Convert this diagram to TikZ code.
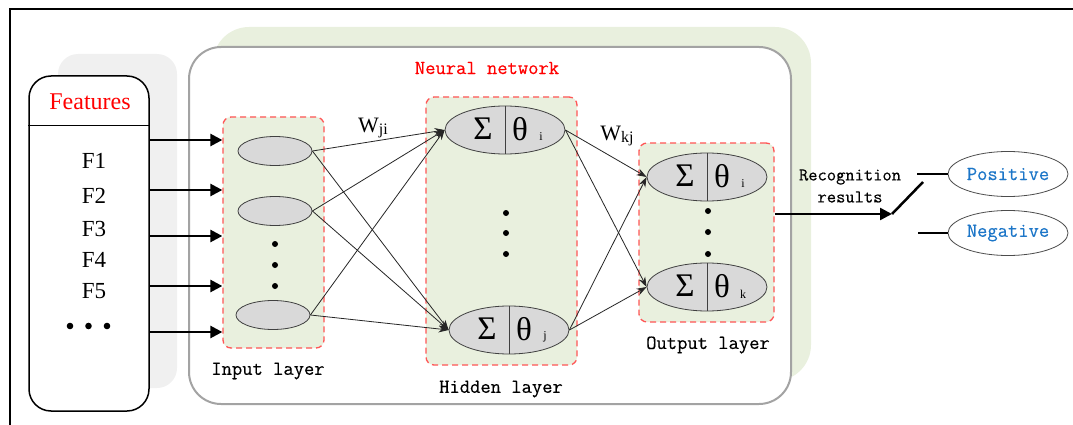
\documentclass[tikz,border=0pt]{standalone}
\usepackage{fontspec}
\setmainfont{Liberation Serif}
\setmonofont{Latin Modern Mono}[FakeBold=0.4]
\usetikzlibrary{shapes.geometric,arrows.meta,calc}

\definecolor{layergreen}{RGB}{233,240,222}
\definecolor{shadowgray}{RGB}{240,240,240}
\definecolor{cellgray}{RGB}{217,217,217}
\definecolor{dashred}{RGB}{255,85,85}
\definecolor{framegray}{RGB}{163,163,163}
\definecolor{resultblue}{RGB}{28,118,200}

\tikzset{
  mono/.style={font=\ttfamily\fontsize{20}{24}\selectfont, inner sep=0pt},
  featlabel/.style={font=\fontsize{23}{26}\selectfont, inner sep=0pt},
  layerbox/.style={draw=dashred, fill=layergreen, dash pattern=on 6pt off 4pt,
                   line width=1.3pt, rounded corners=8pt, inner sep=0pt},
  neuron/.style={ellipse, draw=black!75, fill=cellgray, line width=0.8pt, inner sep=0pt},
  bigcell/.style={neuron, minimum width=120pt, minimum height=48pt},
  smallcell/.style={neuron, minimum width=74pt, minimum height=29pt},
  sym/.style={font=\fontsize{33}{33}\selectfont, inner sep=0pt},
  subs/.style={font=\fontsize{12}{12}\selectfont, inner sep=0pt},
  result/.style={ellipse, draw=black!70, fill=white, line width=0.8pt,
                 minimum width=120pt, minimum height=45pt, inner sep=0pt,
                 text=resultblue, font=\ttfamily\fontsize{20}{24}\selectfont},
  link/.style={draw=black!85, line width=0.8pt, -{Stealth[length=10pt,width=7pt]}},
  feed/.style={line width=2.5pt, -{Triangle[length=12pt,width=12pt]}},
  weight/.style={inner sep=0pt},
}

% one summation/threshold unit: name, x, y, subscript
\newcommand\sigmaunit[4]{%
  \node[bigcell] (#1) at (#2,#3) {};
  \draw[black!75, line width=0.8pt] (#1.north) -- (#1.south);
  \node[sym] (#1-sum) at ([xshift=-22pt,yshift=1pt]#1.center) {Σ};
  \node[sym] (#1-th) at ([xshift=15pt,yshift=1pt]#1.center) {θ};
  \node[subs] (#1-sub) at ([xshift=36pt,yshift=-7pt]#1.center) {#4};
}

\begin{document}
\begin{tikzpicture}[x=1pt,y=-1pt]
\useasboundingbox (0,0) rectangle (1073,425);

% outer frame
\draw[line width=2pt] (10,425) -- (10,9) -- (1073,9);

% soft backdrops
\fill[shadowgray, rounded corners=20pt] (58,54) rectangle (177,388);
\fill[layergreen, rounded corners=36pt] (213,27) rectangle (811,381);

% feature list
\node[draw, line width=1.5pt, rounded corners=22pt, minimum width=120pt,
      minimum height=335pt, fill=white, inner sep=0pt] (feat) at (89,243.5) {};
\draw[line width=1pt] (feat.west |- 0,126) -- (feat.east |- 0,126);
\node[featlabel, text=red, font=\fontsize{24}{26}\selectfont] (feattitle) at (90,102) {Features};
\node[featlabel] (f1) at (94,161) {F1};
\node[featlabel] (f2) at (94,196) {F2};
\node[featlabel] (f3) at (94,229) {F3};
\node[featlabel] (f4) at (94,260) {F4};
\node[featlabel] (f5) at (94,291) {F5};
\fill (70,326) circle (3.3pt) (88.5,326) circle (3.3pt) (107,326) circle (3.3pt);

% network container
\node[draw=framegray, line width=2pt, fill=white, rounded corners=32pt,
      minimum width=602pt, minimum height=357pt, inner sep=0pt] (nn) at (490,225.5) {};
\node[mono, text=red] (nntitle) at (487,68) {Neural network};

% layer boxes
\node[layerbox, minimum width=101pt, minimum height=231pt] (inbox) at (273.5,232.5) {};
\node[layerbox, minimum width=151pt, minimum height=268pt] (hidbox) at (501.5,231) {};
\node[layerbox, minimum width=135pt, minimum height=179pt] (outbox) at (706.5,232.5) {};

\node[mono] (inlabel) at (268,371) {Input layer};
\node[mono] (hidlabel) at (501,389) {Hidden layer};
\node[mono] (outlabel) at (708,345) {Output layer};

% input units
\node[smallcell] (i1) at (275,151) {};
\node[smallcell] (i2) at (275,211) {};
\node[smallcell] (i3) at (273,315) {};
\fill (275,244) circle (3pt) (275,265) circle (3pt) (275,286) circle (3pt);

% hidden units
\sigmaunit{h1}{505}{130}{i}
\sigmaunit{h2}{509}{330}{j}
\fill (506,213) circle (3pt) (506,233) circle (3pt) (506,254) circle (3pt);

% output units
\sigmaunit{o1}{707}{177}{i}
\sigmaunit{o2}{707}{287}{k}
\fill (708,211) circle (3pt) (708,232) circle (3pt) (708,254) circle (3pt);

% features into the input layer
\foreach \y [count=\k] in {140,190,236,286,332} {
  \coordinate (fa\k) at (0,\y);
  \draw[feed] (feat.east |- fa\k) -- (inbox.west |- fa\k);
}

% weighted links
\foreach \a in {i1,i2,i3} {
  \foreach \b in {h1,h2} { \draw[link] (\a.east) -- (\b.west); }
}
\foreach \a in {h1,h2} {
  \foreach \b in {o1,o2} { \draw[link] (\a.east) -- (\b.west); }
}
\node[weight] (wji) at (373,128) {\fontsize{22}{22}\selectfont W\raisebox{-2pt}{\fontsize{16}{16}\selectfont ji}};
\node[weight] (wkj) at (617,136) {\fontsize{22}{22}\selectfont W\raisebox{-2pt}{\fontsize{16}{16}\selectfont kj}};

% recognition switch
\coordinate (sw) at (892,214);
\coordinate (swend) at (923,182);
\draw[feed] (outbox.east |- sw) -- (sw);
\draw[line width=2.5pt] (sw) -- (swend);
\node[inner sep=0pt, align=center, font=\ttfamily\fontsize{18}{22}\selectfont] (rec) at (850,186) {Recognition\\results};

\node[result] (pos) at (1008,174) {Positive};
\node[result] (neg) at (1008,233) {Negative};
\coordinate (posin) at (917,174);
\coordinate (negin) at (918,233);
\draw[line width=2.5pt] (posin) -- (pos.west);
\draw[line width=2.5pt] (negin) -- (neg.west);
\end{tikzpicture}
\end{document}
